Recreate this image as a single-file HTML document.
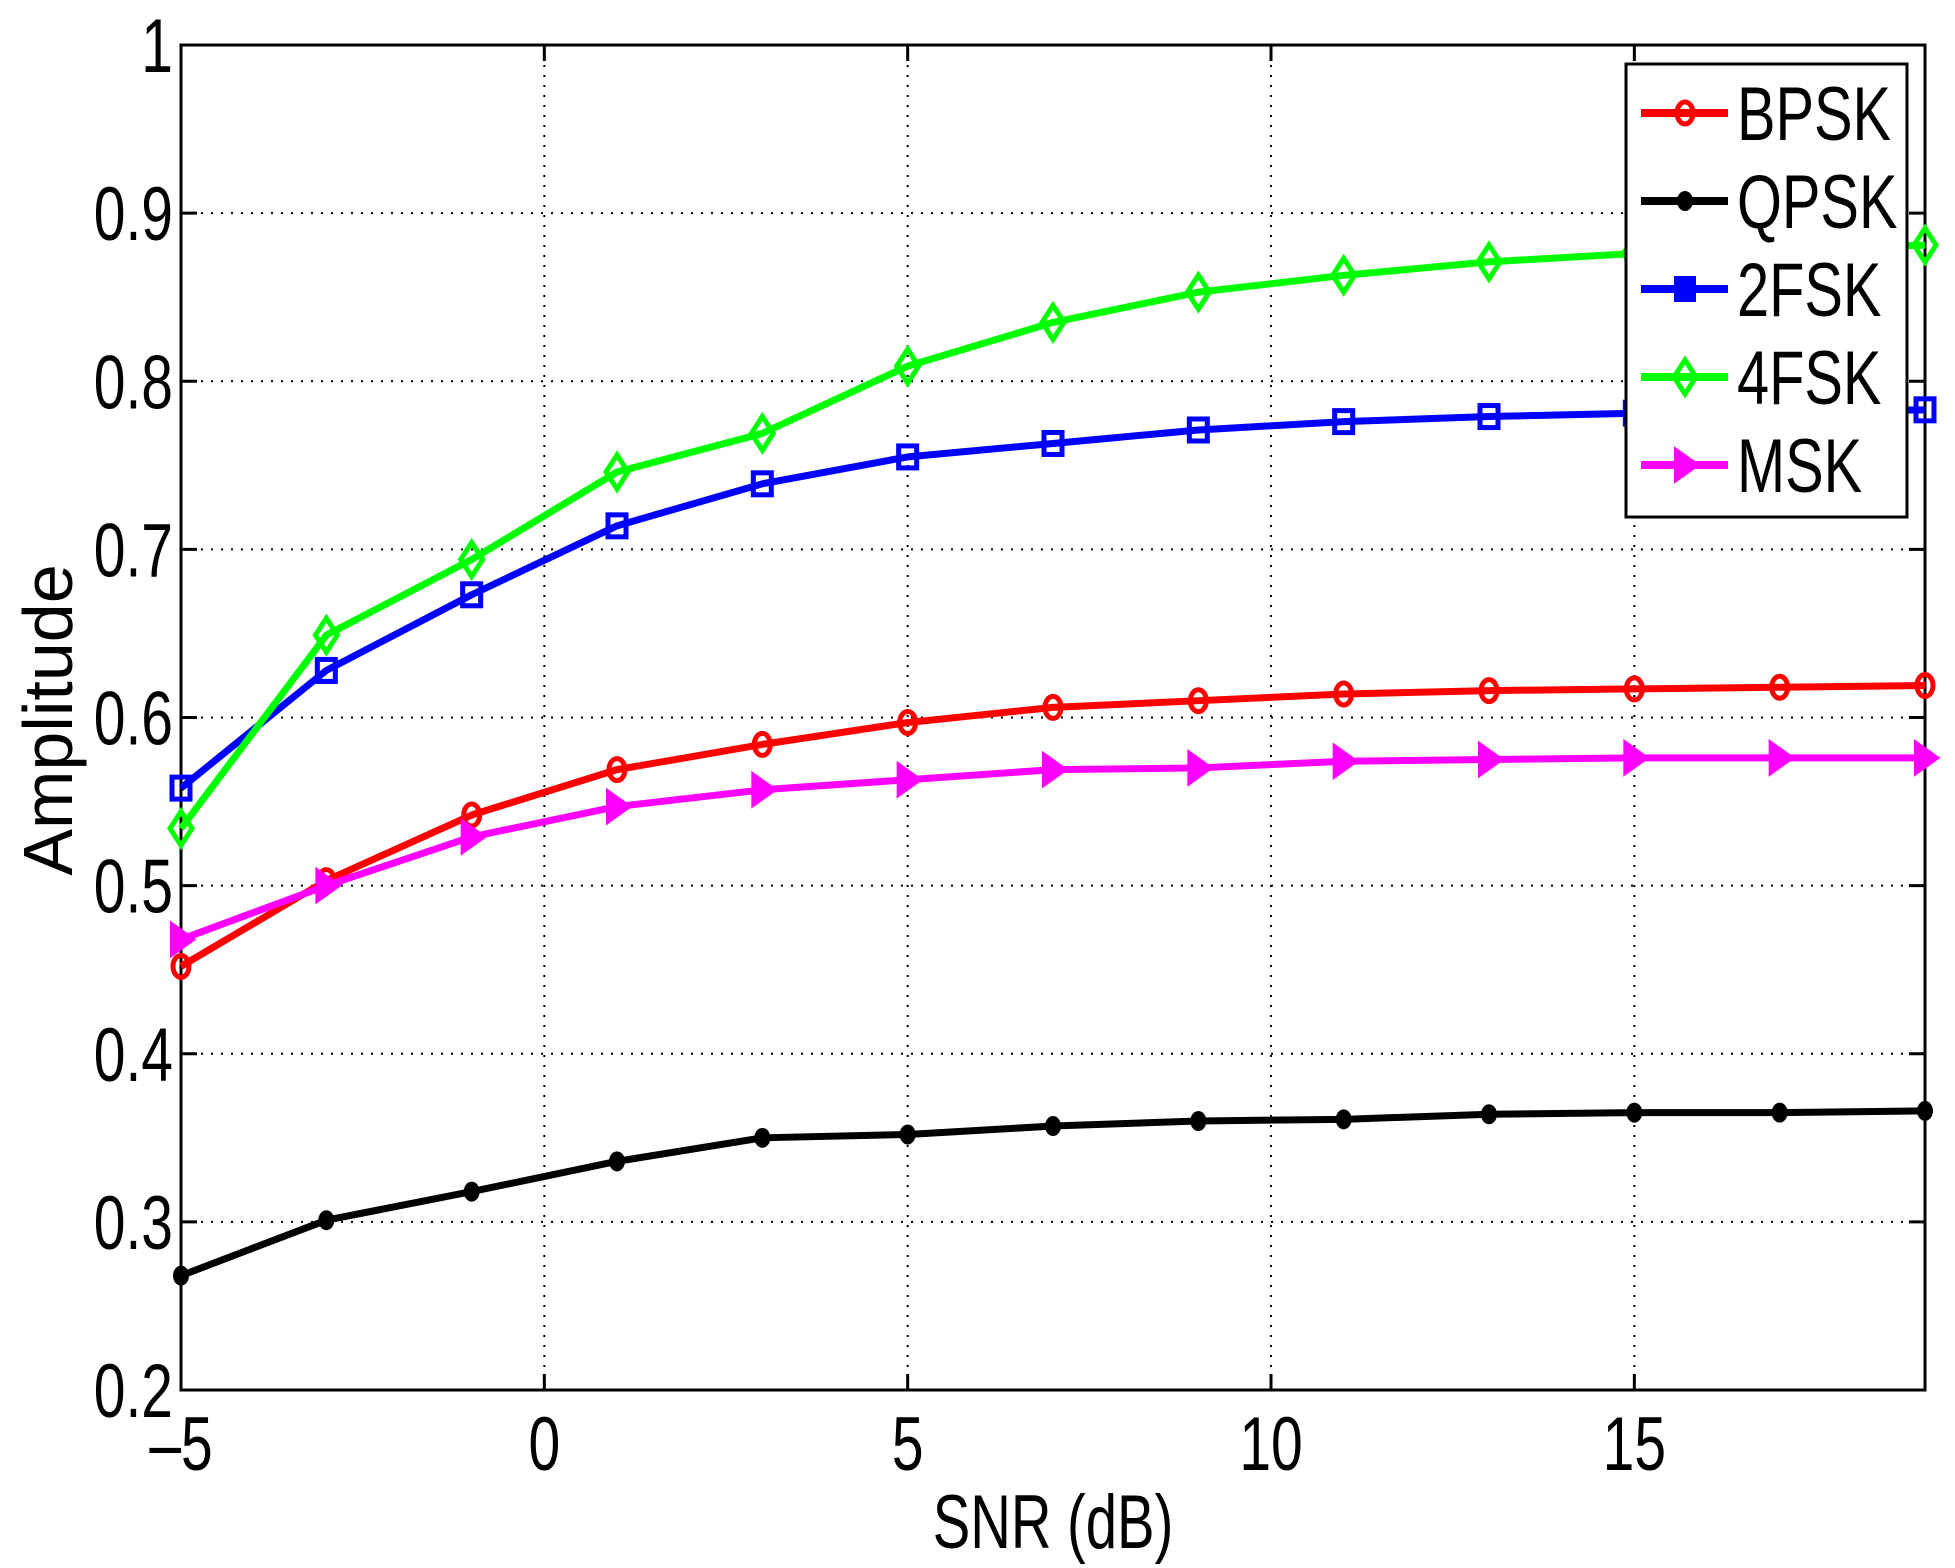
<!DOCTYPE html>
<html><head><meta charset="utf-8"><style>body{margin:0;background:#fff}svg{display:block}</style></head>
<body>
<svg id="s" width="1955" height="1568" xmlns="http://www.w3.org/2000/svg" font-family="Liberation Sans, sans-serif"></svg>
<script>
const s=document.getElementById('s');
const L=181,R=1925,T=45,B=1390;
const X=v=>L+(v+5)*(R-L)/24, Y=v=>B-(v-0.2)*(B-T)/0.8;
let h='<rect width="1955" height="1568" fill="#fff"/>';
for(let v=0;v<=15;v+=5)h+=`<line x1="${X(v)}" y1="${T}" x2="${X(v)}" y2="${B}" stroke="#000" stroke-width="2" stroke-dasharray="2,8"/>`;
for(let i=3;i<=9;i++){const y=Y(i/10);h+=`<line x1="${L}" y1="${y}" x2="${R}" y2="${y}" stroke="#000" stroke-width="2" stroke-dasharray="2,8"/>`;}
for(let v=-5;v<=15;v+=5)h+=`<line x1="${X(v)}" y1="${B}" x2="${X(v)}" y2="${B-16}" stroke="#000" stroke-width="3"/><line x1="${X(v)}" y1="${T}" x2="${X(v)}" y2="${T+16}" stroke="#000" stroke-width="3"/>`;
for(let i=2;i<=10;i++){const y=Y(i/10);h+=`<line x1="${L}" y1="${y}" x2="${L+16}" y2="${y}" stroke="#000" stroke-width="3"/><line x1="${R}" y1="${y}" x2="${R-16}" y2="${y}" stroke="#000" stroke-width="3"/>`;}
h+=`<rect x="${L}" y="${T}" width="${R-L}" height="${B-T}" fill="none" stroke="#000" stroke-width="3"/>`;
const lab=(x,y,t,a,sc)=>`<text transform="translate(${x},${y}) scale(${sc||0.75},1)" font-size="76" text-anchor="${a}">${t}</text>`;
[-5,0,5,10,15].forEach(v=>h+=lab(X(v),B+80,v<0?'–5':v,'middle'));
for(let i=2;i<=10;i++)h+=lab(L-8,Y(i/10)+27,i==10?'1':'0.'+i,'end');
h+=lab(1053,1548,'SNR (dB)','middle',0.74);
h+=`<text transform="translate(72,720) rotate(-90)" font-size="70" text-anchor="middle">Amplitude</text>`;
const xs=[-5,-3,-1,1,3,5,7,9,11,13,15,17,19];
const S=[
['#ff0000','o',[0.452,0.503,0.542,0.569,0.584,0.597,0.606,0.610,0.614,0.616,0.617,0.618,0.619],'BPSK'],
['#000000','.',[0.268,0.301,0.318,0.336,0.350,0.352,0.357,0.360,0.361,0.364,0.365,0.365,0.366],'QPSK'],
['#0000ff','s',[0.558,0.628,0.673,0.714,0.739,0.755,0.763,0.771,0.776,0.779,0.781,0.782,0.783],'2FSK'],
['#00ff00','d',[0.534,0.649,0.694,0.746,0.769,0.809,0.835,0.853,0.863,0.871,0.876,0.878,0.881],'4FSK'],
['#ff00ff','>',[0.468,0.500,0.529,0.547,0.557,0.563,0.569,0.570,0.574,0.575,0.576,0.576,0.576],'MSK']];
function mk(c,m,x,y){
 if(m=='o')return `<ellipse cx="${x}" cy="${y}" rx="8" ry="11" fill="none" stroke="${c}" stroke-width="5"/>`;
 if(m=='.')return `<ellipse cx="${x}" cy="${y}" rx="8" ry="10" fill="${c}"/>`;
 if(m=='s')return `<rect x="${x-9}" y="${y-11}" width="18" height="22" fill="none" stroke="${c}" stroke-width="5"/>`;
 if(m=='d')return `<polygon points="${x},${y-17} ${x+11},${y} ${x},${y+17} ${x-11},${y}" fill="none" stroke="${c}" stroke-width="5"/>`;
 return `<polygon points="${x-9},${y-15} ${x+12},${y} ${x-9},${y+15}" fill="${c}" stroke="${c}" stroke-width="4"/>`;
}
S.forEach(([c,m,d])=>{h+=`<polyline fill="none" stroke="${c}" stroke-width="7" stroke-linejoin="round" points="${d.map((v,i)=>X(xs[i])+','+Y(v)).join(' ')}"/>`;d.forEach((v,i)=>h+=mk(c,m,X(xs[i]),Y(v)));});
h+=`<rect x="1626" y="64" width="281" height="453" fill="#fff" stroke="#000" stroke-width="3"/>`;
S.forEach(([c,m,d,n],i)=>{const y=113+i*88;h+=`<line x1="1641" y1="${y}" x2="1728" y2="${y}" stroke="${c}" stroke-width="8"/>`;
 if(m=='s')h+=`<rect x="1674" y="${y-13}" width="22" height="26" fill="${c}"/>`;else h+=mk(c,m,1685,y);
 h+=`<text transform="translate(1737,${y+27}) scale(0.76,1)" font-size="76">${n}</text>`;});
s.innerHTML=h;
</script>
</body></html>
